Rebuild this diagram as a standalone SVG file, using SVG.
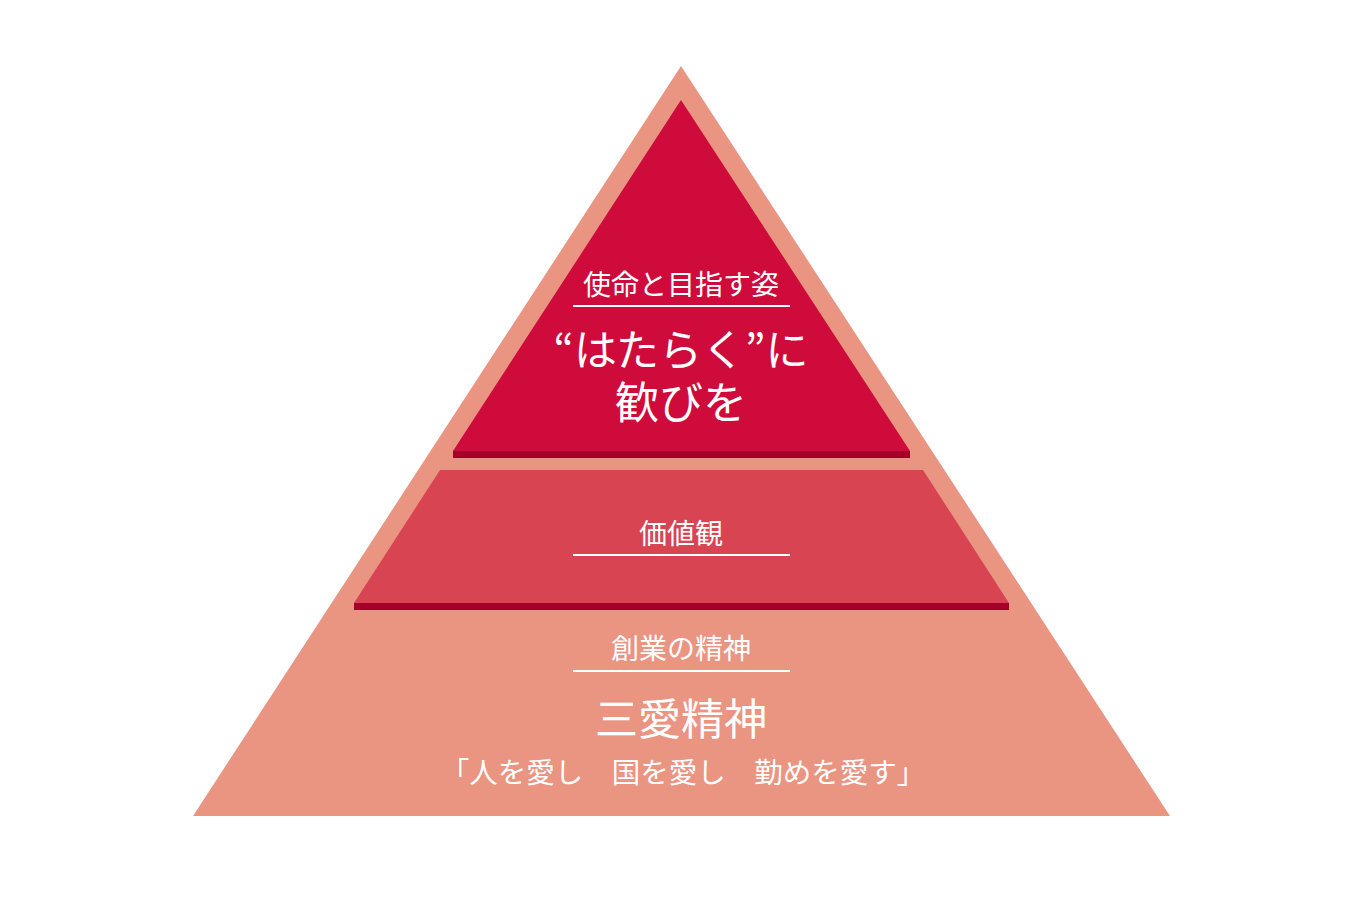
<svg xmlns="http://www.w3.org/2000/svg" width="1360" height="900" viewBox="0 0 1360 900">
<style>
text{font-family:"Noto Sans CJK JP","Noto Sans",sans-serif;fill:#fff;text-anchor:middle}
.lbl{font-size:28px}
.big{font-size:43px}
.rule{stroke:#fff;stroke-width:2}
.shadow{fill:#A5002A}
</style>
<rect width="1360" height="900" fill="#fff"/>
<g id="base">
<polygon points="681,66 1170,816 193,816" fill="#EA9482"/>
<text class="lbl" x="681" y="659">創業の精神</text>
<line class="rule" x1="573" y1="671" x2="790" y2="671"/>
<text x="681" y="735" style="font-size:43px">三愛精神</text>
<text x="683" y="783" style="font-size:28.5px">「人を愛し　国を愛し　勤めを愛す」</text>
</g>
<g id="values">
<polygon points="440,470 923,470 1009,603 354,603" fill="#D84452"/>
<rect class="shadow" x="354" y="603" width="655" height="7"/>
<text class="lbl" x="681" y="544">価値観</text>
<line class="rule" x1="573" y1="555" x2="790" y2="555"/>
</g>
<g id="mission">
<polygon points="681,100 910,451 453,451" fill="#CE0B3B"/>
<rect class="shadow" x="453" y="451" width="457" height="7"/>
<text class="lbl" x="681" y="295">使命と目指す姿</text>
<line class="rule" x1="573" y1="306" x2="790" y2="306"/>
<text class="big" x="681" y="366">“はたらく”に</text>
<text x="681" y="419" style="font-size:44px">歓びを</text>
</g>
<g id="connectors"/>
</svg>
